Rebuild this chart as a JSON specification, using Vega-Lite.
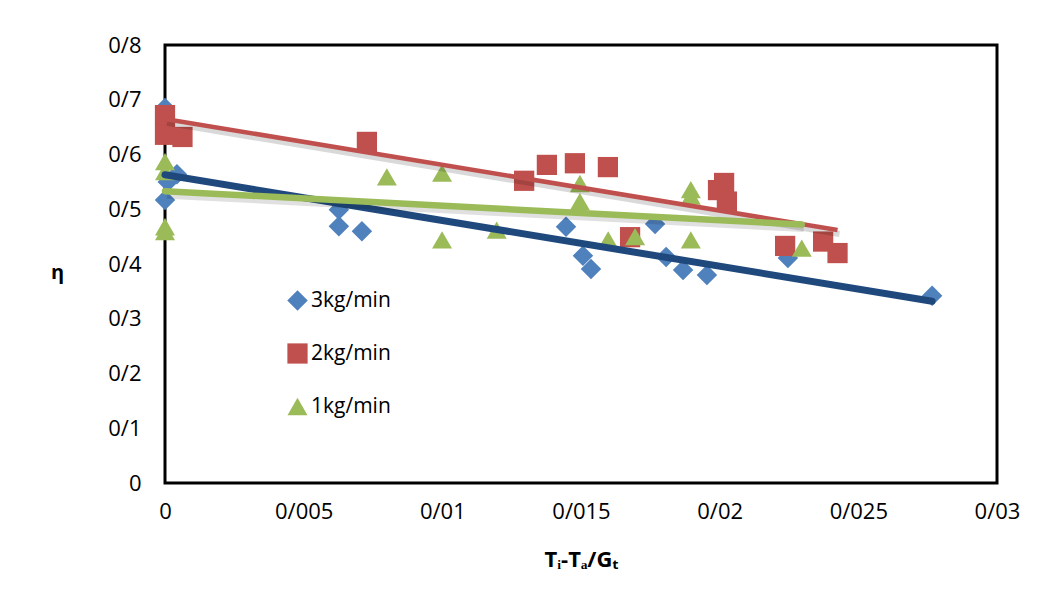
{
  "$schema": "https://vega.github.io/schema/vega-lite/v6.json",
  "autosize": {"type": "none"},
  "width": 832,
  "height": 438,
  "padding": {"left": 165, "top": 45, "right": 65, "bottom": 132},
  "background": "white",
  "config": {
    "view": {"stroke": "#000", "strokeWidth": 3},
    "font": "Open Sans",
    "axis": {"grid": false, "domain": false, "ticks": false, "labelFlush": false, "labelFont": "Open Sans", "labelFontSize": 22, "labelColor": "#000", "titleFont": "Open Sans", "titleColor": "#000", "titleFontWeight": "bold", "titleFontSize": 18}
  },
  "datasets": {
    "points": [
      {"series": "3kg/min", "x": 0, "eta": 0.685},
      {"series": "3kg/min", "x": 0, "eta": 0.517},
      {"series": "3kg/min", "x": 0.0001, "eta": 0.55},
      {"series": "3kg/min", "x": 0.00043, "eta": 0.564},
      {"series": "3kg/min", "x": 0.00627, "eta": 0.499},
      {"series": "3kg/min", "x": 0.00627, "eta": 0.469},
      {"series": "3kg/min", "x": 0.0071, "eta": 0.46},
      {"series": "3kg/min", "x": 0.01446, "eta": 0.468},
      {"series": "3kg/min", "x": 0.01507, "eta": 0.415},
      {"series": "3kg/min", "x": 0.01536, "eta": 0.391},
      {"series": "3kg/min", "x": 0.01767, "eta": 0.473},
      {"series": "3kg/min", "x": 0.01807, "eta": 0.413},
      {"series": "3kg/min", "x": 0.01868, "eta": 0.389},
      {"series": "3kg/min", "x": 0.01954, "eta": 0.38},
      {"series": "3kg/min", "x": 0.02246, "eta": 0.411},
      {"series": "3kg/min", "x": 0.02766, "eta": 0.342},
      {"series": "2kg/min", "x": 0, "eta": 0.672},
      {"series": "2kg/min", "x": 0, "eta": 0.636},
      {"series": "2kg/min", "x": 0.00063, "eta": 0.632},
      {"series": "2kg/min", "x": 0.00728, "eta": 0.623},
      {"series": "2kg/min", "x": 0.01295, "eta": 0.552},
      {"series": "2kg/min", "x": 0.01377, "eta": 0.581},
      {"series": "2kg/min", "x": 0.01478, "eta": 0.584},
      {"series": "2kg/min", "x": 0.01597, "eta": 0.577},
      {"series": "2kg/min", "x": 0.01677, "eta": 0.449},
      {"series": "2kg/min", "x": 0.01994, "eta": 0.535},
      {"series": "2kg/min", "x": 0.02016, "eta": 0.548},
      {"series": "2kg/min", "x": 0.02026, "eta": 0.514},
      {"series": "2kg/min", "x": 0.02236, "eta": 0.433},
      {"series": "2kg/min", "x": 0.02373, "eta": 0.441},
      {"series": "2kg/min", "x": 0.02425, "eta": 0.42},
      {"series": "1kg/min", "x": 0, "eta": 0.587},
      {"series": "1kg/min", "x": 0, "eta": 0.569},
      {"series": "1kg/min", "x": 0, "eta": 0.468},
      {"series": "1kg/min", "x": 0, "eta": 0.459},
      {"series": "1kg/min", "x": 0.008, "eta": 0.559},
      {"series": "1kg/min", "x": 0.00999, "eta": 0.566},
      {"series": "1kg/min", "x": 0.00999, "eta": 0.444},
      {"series": "1kg/min", "x": 0.01196, "eta": 0.462},
      {"series": "1kg/min", "x": 0.01496, "eta": 0.547},
      {"series": "1kg/min", "x": 0.01496, "eta": 0.514},
      {"series": "1kg/min", "x": 0.01598, "eta": 0.444},
      {"series": "1kg/min", "x": 0.01695, "eta": 0.45},
      {"series": "1kg/min", "x": 0.01896, "eta": 0.536},
      {"series": "1kg/min", "x": 0.01896, "eta": 0.524},
      {"series": "1kg/min", "x": 0.01896, "eta": 0.444},
      {"series": "1kg/min", "x": 0.02296, "eta": 0.429}
    ],
    "trend": [
      {"series": "3kg/min", "x": 0, "eta": 0.563},
      {"series": "3kg/min", "x": 0.02766, "eta": 0.332},
      {"series": "2kg/min", "x": 0, "eta": 0.665},
      {"series": "2kg/min", "x": 0.02425, "eta": 0.462},
      {"series": "1kg/min", "x": 0, "eta": 0.533},
      {"series": "1kg/min", "x": 0.02296, "eta": 0.472}
    ]
  },
  "layer": [
    {
      "data": {"name": "points"},
      "mark": {"type": "point", "filled": true, "opacity": 1, "strokeWidth": 0},
      "encoding": {
        "x": {"field": "x", "type": "quantitative", "scale": {"domain": [0, 0.03], "nice": false},
          "axis": {"values": [0, 0.005, 0.01, 0.015, 0.02, 0.025, 0.03], "format": ".3~f", "labelExpr": "replace(datum.label, '.', '/')", "labelPadding": 18, "title": "Tᵢ-Tₐ/Gₜ", "titleY": 76, "titleBaseline": "middle", "titleFontSize": 22}},
        "y": {"field": "eta", "type": "quantitative", "scale": {"domain": [0, 0.8], "nice": false},
          "axis": {"values": [0, 0.1, 0.2, 0.3, 0.4, 0.5, 0.6, 0.7, 0.8], "format": ".1~f", "labelExpr": "replace(datum.label, '.', '/')", "labelPadding": 24, "title": "η", "titleAngle": 0, "titleAlign": "center", "titleBaseline": "middle", "titleX": -108, "titleY": 227, "titleFontSize": 20}},
        "size": {"field": "series", "type": "nominal",
          "scale": {"domain": ["3kg/min", "2kg/min", "1kg/min"], "range": [420, 400, 560]},
          "legend": null},
        "color": {"field": "series", "type": "nominal",
          "scale": {"domain": ["3kg/min", "2kg/min", "1kg/min"], "range": ["#4F81BD", "#C0504D", "#9BBB59"]},
          "legend": {"orient": "none", "legendX": 122, "legendY": 245, "title": null, "symbolSize": 300, "labelFontSize": 21, "labelFont": "Open Sans", "labelColor": "#000", "rowPadding": 31, "labelOffset": 3, "symbolStrokeWidth": 0, "padding": 0}},
        "shape": {"field": "series", "type": "nominal",
          "scale": {"domain": ["3kg/min", "2kg/min", "1kg/min"], "range": ["diamond", "square", "triangle-up"]},
          "legend": {"orient": "none", "legendX": 122, "legendY": 245, "title": null, "symbolSize": 300, "labelFontSize": 21, "labelFont": "Open Sans", "labelColor": "#000", "rowPadding": 31, "labelOffset": 3, "symbolStrokeWidth": 0, "padding": 0}}
      }
    },
    {
      "data": {"name": "trend"},
      "transform": [{"filter": "datum.series === '2kg/min'"}],
      "mark": {"type": "line", "color": "#000", "opacity": 0.15, "strokeWidth": 6, "yOffset": 4, "xOffset": 2},
      "encoding": {"x": {"field": "x", "type": "quantitative"}, "y": {"field": "eta", "type": "quantitative"}}
    },
    {
      "data": {"name": "trend"},
      "transform": [{"filter": "datum.series === '2kg/min'"}],
      "mark": {"type": "line", "color": "#C0504D", "strokeWidth": 4.5},
      "encoding": {"x": {"field": "x", "type": "quantitative"}, "y": {"field": "eta", "type": "quantitative"}}
    },
    {
      "data": {"name": "trend"},
      "transform": [{"filter": "datum.series === '3kg/min'"}],
      "mark": {"type": "line", "color": "#1F497D", "strokeWidth": 7, "strokeCap": "round"},
      "encoding": {"x": {"field": "x", "type": "quantitative"}, "y": {"field": "eta", "type": "quantitative"}}
    },
    {
      "data": {"name": "trend"},
      "transform": [{"filter": "datum.series === '1kg/min'"}],
      "mark": {"type": "line", "color": "#000", "opacity": 0.12, "strokeWidth": 7, "yOffset": 4, "xOffset": 2},
      "encoding": {"x": {"field": "x", "type": "quantitative"}, "y": {"field": "eta", "type": "quantitative"}}
    },
    {
      "data": {"name": "trend"},
      "transform": [{"filter": "datum.series === '1kg/min'"}],
      "mark": {"type": "line", "color": "#9BBB59", "strokeWidth": 6.5, "strokeCap": "round"},
      "encoding": {"x": {"field": "x", "type": "quantitative"}, "y": {"field": "eta", "type": "quantitative"}}
    }
  ]
}
